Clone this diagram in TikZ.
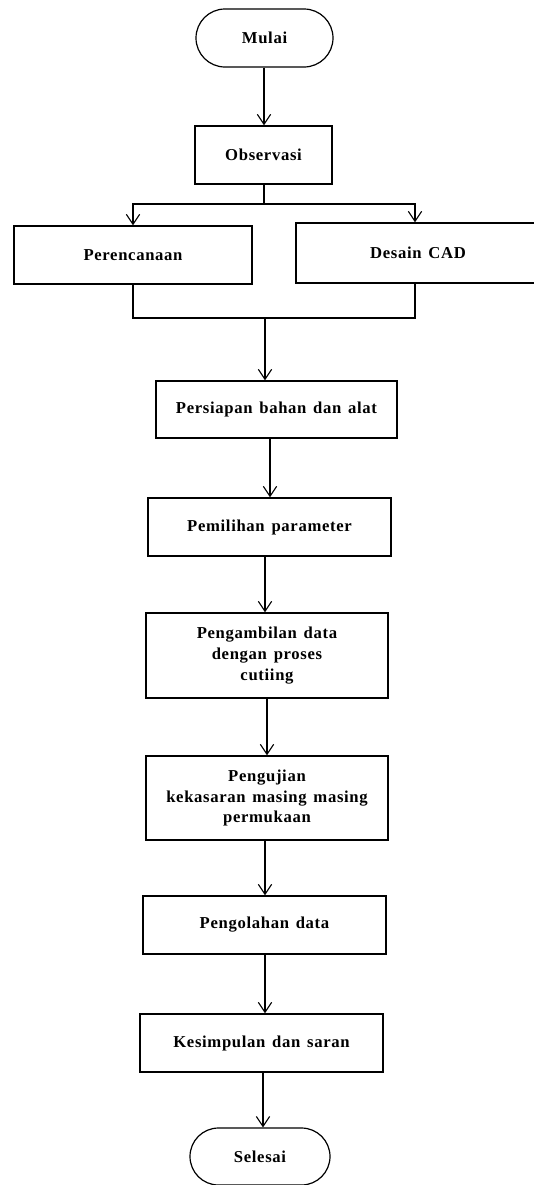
\documentclass[tikz,border=0pt]{standalone}
\usepackage{fontspec}
\setmainfont{Liberation Serif}[LetterSpace=4,WordSpace=1.4]
\usetikzlibrary{shapes.misc,arrows.meta}
\tikzset{
  box/.style={draw, line width=1.1pt, rectangle, align=center, font=\bfseries\fontsize{12.5}{15.5}\selectfont, inner sep=0pt},
  term/.style={draw, line width=0.9pt, rounded rectangle, align=center, font=\bfseries\fontsize{12.5}{15.5}\selectfont, inner sep=0pt},
  conn/.style={line width=0.8pt},
  arr/.style={conn, -{Straight Barb[length=7.5pt,width=10pt,line width=0.8pt]}},
}
\begin{document}
\begin{tikzpicture}[x=0.75pt,y=-0.75pt]
\clip (0,0) rectangle (534,1185);
\fill[white] (0,0) rectangle (534,1185);
\node[term, minimum width=102.75pt, minimum height=43.5pt] (mulai) at (264.5,38) {Mulai};
\node[box, minimum width=102.75pt, minimum height=43.5pt] (obs) at (263.5,155) {Observasi};
\node[box, minimum width=178.5pt, minimum height=43.5pt] (ren) at (133,255) {Perencanaan};
\node[box, minimum width=183pt, minimum height=45pt] (cad) at (418,253) {Desain CAD};
\node[box, minimum width=180.75pt, minimum height=42.75pt] (pers) at (276.5,409.5) {Persiapan bahan dan alat};
\node[box, minimum width=182.25pt, minimum height=43.5pt] (pem) at (269.5,527) {Pemilihan parameter};
\node[box, minimum width=181.5pt, minimum height=63.75pt] (amb) at (267,655.5) {Pengambilan data\\dengan proses\\cutiing};
\node[box, minimum width=181.5pt, minimum height=63pt] (uji) at (267,798) {Pengujian\\kekasaran masing masing\\permukaan};
\node[box, minimum width=182.25pt, minimum height=43.5pt] (olah) at (264.5,925) {Pengolahan data};
\node[box, minimum width=182.25pt, minimum height=43.5pt] (kes) at (261.5,1043) {Kesimpulan dan saran};
\node[term, minimum width=105pt, minimum height=42.75pt] (sel) at (260,1156.5) {Selesai};
\coordinate (split) at (264,204);
\coordinate (merge) at (265,318);
\draw[arr] (mulai.south -| 264,0) -- (obs.north -| 264,0);
\draw[conn] (obs.south -| split) -- (split);
\draw[arr] (split) -| (ren.north -| 133,0);
\draw[arr] (split) -| (cad.north -| 415,0);
\draw[conn] (ren.south -| 133,0) |- (merge);
\draw[conn] (cad.south -| 415,0) |- (merge);
\draw[arr] (merge) -- (pers.north -| merge);
\draw[arr] (pers.south -| 270,0) -- (pem.north -| 270,0);
\draw[arr] (pem.south -| 265,0) -- (amb.north -| 265,0);
\draw[arr] (amb.south -| 267,0) -- (uji.north -| 267,0);
\draw[arr] (uji.south -| 265,0) -- (olah.north -| 265,0);
\draw[arr] (olah.south -| 265,0) -- (kes.north -| 265,0);
\draw[arr] (kes.south -| 263,0) -- (sel.north -| 263,0);
\end{tikzpicture}
\end{document}
